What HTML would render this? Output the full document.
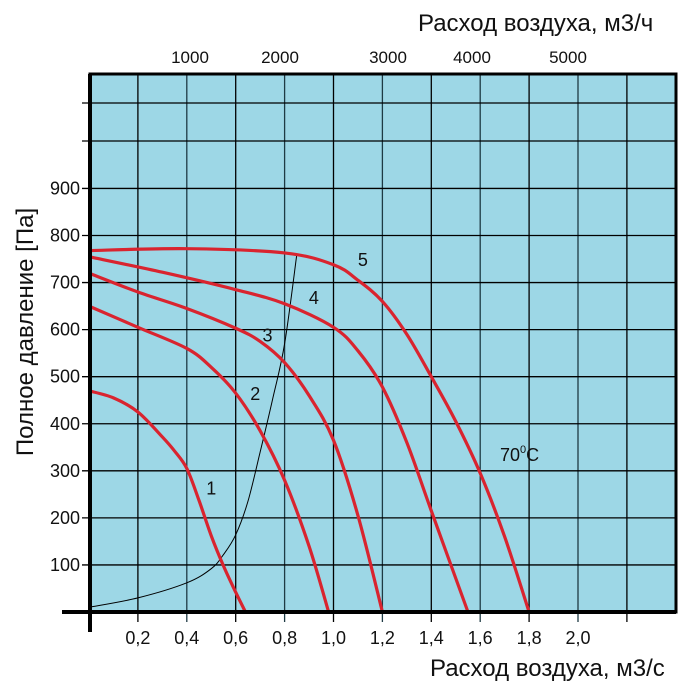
<!DOCTYPE html>
<html><head><meta charset="utf-8"><style>
html,body{margin:0;padding:0;background:#fff;}
svg{display:block;font-family:"Liberation Sans",Arial,sans-serif;}
</style></head><body>
<svg id="chart" width="700" height="700" viewBox="0 0 700 700">
<rect x="90" y="74" width="586" height="538" fill="#9dd7e6"/>
<g id="grid"></g>
<g id="curves"></g>
<g id="labels"></g>
<rect x="90" y="74" width="586" height="538" fill="none" stroke="#000" stroke-width="3"/>
<line x1="62" y1="612" x2="676" y2="612" stroke="#000" stroke-width="4"/>
<line x1="90" y1="74" x2="90" y2="632" stroke="#000" stroke-width="4"/>
<text x="418" y="31" font-size="24" fill="#111">Расход воздуха, м3/ч</text>
<text x="430" y="676" font-size="24" fill="#111">Расход воздуха, м3/с</text>
<text transform="translate(33,332) rotate(-90)" text-anchor="middle" font-size="24" fill="#111">Полное давление [Па]</text>
<text x="500" y="461" font-size="18" fill="#111">70<tspan dy="-8" font-size="11">0</tspan><tspan dy="8">C</tspan></text>
</svg>
<script>
const xTicks=[0.2,0.4,0.6,0.8,1.0,1.2,1.4,1.6,1.8,2.0,2.2];
const xTickLabels=["0,2","0,4","0,6","0,8","1,0","1,2","1,4","1,6","1,8","2,0",""];
const yTicks=[100,200,300,400,500,600,700,800,900,1000,1080];
const yTickLabels=["100","200","300","400","500","600","700","800","900","",""];
const topTickLabels=["1000","2000","3000","4000","5000"];
const topTickPos=[190,280,388,472,568];
const curveNames=["1","2","3","4","5"];
const q1=[0,0.1,0.2,0.3,0.35,0.4,0.45,0.5,0.55,0.6,0.64];
const p1=[470,455,425,372,342,305,237,162,98,42,0];
const q2=[0,0.2,0.4,0.5,0.6,0.7,0.8,0.9,0.98];
const p2=[650,605,560,520,465,385,280,140,0];
const q3=[0,0.2,0.4,0.6,0.7,0.8,0.9,1.0,1.1,1.2];
const p3=[720,680,645,603,575,530,460,365,205,0];
const q4=[0,0.3,0.6,0.8,1.0,1.1,1.2,1.3,1.4,1.55];
const p4=[755,722,685,655,605,555,478,360,215,0];
const q5=[0,0.4,0.8,1.0,1.1,1.2,1.3,1.4,1.5,1.6,1.7,1.8];
const p5=[768,772,763,738,705,660,590,500,405,295,160,0];
const qSys=[0,0.2,0.4,0.5,0.55,0.6,0.65,0.7,0.75,0.8,0.85];
const pSys=[10,30,62,92,122,164,235,340,450,570,760];
const labelQ=[0.5,0.68,0.73,0.92,1.12];
const labelP=[250,450,575,655,735];

const X=q=>89+q*244.5;
const Y=p=>612-p*0.4706;
const NS="http://www.w3.org/2000/svg";
function mk(t,a,parent){const e=document.createElementNS(NS,t);for(const k in a)e.setAttribute(k,a[k]);parent.appendChild(e);return e;}
const grid=document.getElementById('grid'),curves=document.getElementById('curves'),labels=document.getElementById('labels');
xTicks.forEach((q,i)=>{
  const l=mk('line',{x1:X(q),x2:X(q),y1:74,y2:622,stroke:i%2?'#1e3a44':'#000','stroke-width':1.3},grid);
  
  
  const t=mk('text',{x:X(q),y:644,'text-anchor':'middle','font-size':18,fill:'#111'},labels);
  t.textContent=xTickLabels[i];
  
  
});
yTicks.forEach((p,i)=>{
  const y=p===1000?141:(p===1080?103:Y(p));
  const l=mk('line',{x1:82,x2:676,y1:y,y2:y,stroke:'#000','stroke-width':1.3},grid);
  
  
  const t=mk('text',{x:80,y:y+6,'text-anchor':'end','font-size':18,fill:'#111'},labels);
  t.textContent=yTickLabels[i];
  
  
});
topTickLabels.forEach((s,i)=>{
  const t=mk('text',{x:topTickPos[i],y:63,'text-anchor':'middle','font-size':17,fill:'#111'},labels);
  t.textContent=s;
  
  
});
function path(qs,ps){
  const pts=qs.map((q,i)=>[X(q),Y(ps[i])]);
  let d='M'+pts[0][0]+','+pts[0][1];
  for(let i=0;i<pts.length-1;i++){
    const p0=pts[i-1]||pts[i],p1=pts[i],p2=pts[i+1],p3=pts[i+2]||p2;
    const c1=[p1[0]+(p2[0]-p0[0])/6,p1[1]+(p2[1]-p0[1])/6];
    const c2=[p2[0]-(p3[0]-p1[0])/6,p2[1]-(p3[1]-p1[1])/6];
    d+=`C${c1[0]},${c1[1]} ${c2[0]},${c2[1]} ${p2[0]},${p2[1]}`;
  }
  return d;
}
const sys=mk('path',{d:path(qSys,pSys),fill:'none',stroke:'#000','stroke-width':1},curves);


[[q1,p1],[q2,p2],[q3,p3],[q4,p4],[q5,p5]].forEach((c,i)=>{
  const e=mk('path',{d:path(c[0],c[1]),fill:'none',stroke:'#d9242f','stroke-width':3.2},curves);
  
  
  const t=mk('text',{x:X(labelQ[i]),y:Y(labelP[i]),'text-anchor':'middle','font-size':18,fill:'#111'},labels);
  t.textContent=curveNames[i];
  
  
});
</script>
</body></html>
